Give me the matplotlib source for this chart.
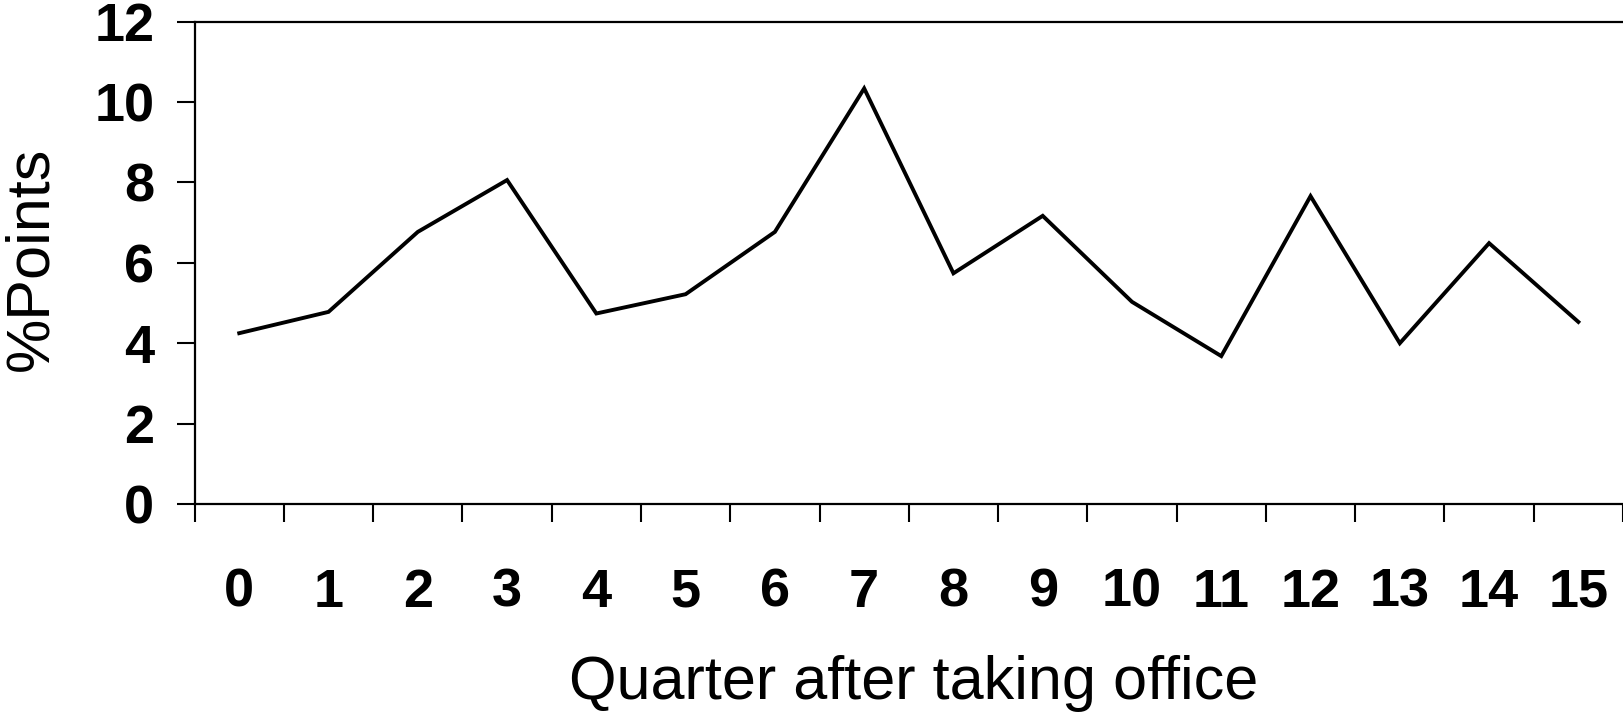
import matplotlib
matplotlib.use("Agg")
import matplotlib.pyplot as plt

# --- data
quarters = list(range(16))
tick_labels = [str(q) for q in quarters]
points = [4.25, 4.78, 6.77, 8.06, 4.74, 5.22, 6.77, 10.34,
          5.74, 7.17, 5.03, 3.68, 7.66, 4.00, 6.49, 4.53]
y_ticks = [0, 2, 4, 6, 8, 10, 12]

plt.rcParams['font.family'] = ['Liberation Sans', 'DejaVu Sans']

W, H = 1623, 718
fig = plt.figure(figsize=(W / 100, H / 100), dpi=100)
ax = fig.add_axes([194.6 / W, 1 - 504 / H, 1 - 194.6 / W, (504 - 21.7) / H])

ax.plot(quarters, points, color="black", linewidth=2.8, solid_joinstyle="miter")

ax.set_xlim(-0.5, 15.5)
ax.set_ylim(0, 12)

# category axis: tick marks between categories, labels at the centres
ax.set_xticks([q - 0.5 for q in quarters] + [15.5])
ax.set_xticklabels([])
ax.set_xticks(quarters, minor=True)
ax.set_xticklabels(tick_labels, minor=True, fontsize=39, fontweight="bold")
ax.tick_params(axis="x", which="major", direction="out", length=13, width=1.5)
ax.tick_params(axis="x", which="minor", length=0, pad=46)

ax.set_yticks(y_ticks)
ax.set_yticklabels([str(v) for v in y_ticks], fontsize=39, fontweight="bold")
ax.tick_params(axis="y", direction="out", length=13, width=1.5, pad=16)

for side in ("left", "bottom", "top"):
    ax.spines[side].set_linewidth(1.6)
ax.spines["right"].set_visible(False)

fig.text(32 / W, 1 - 259 / H, "%Points", rotation=90, ha="center", va="center", fontsize=44)
fig.text(914 / W, 1 - 683 / H, "Quarter after taking office", ha="center", va="center", fontsize=44)

fig.savefig("out.png", dpi=100)
